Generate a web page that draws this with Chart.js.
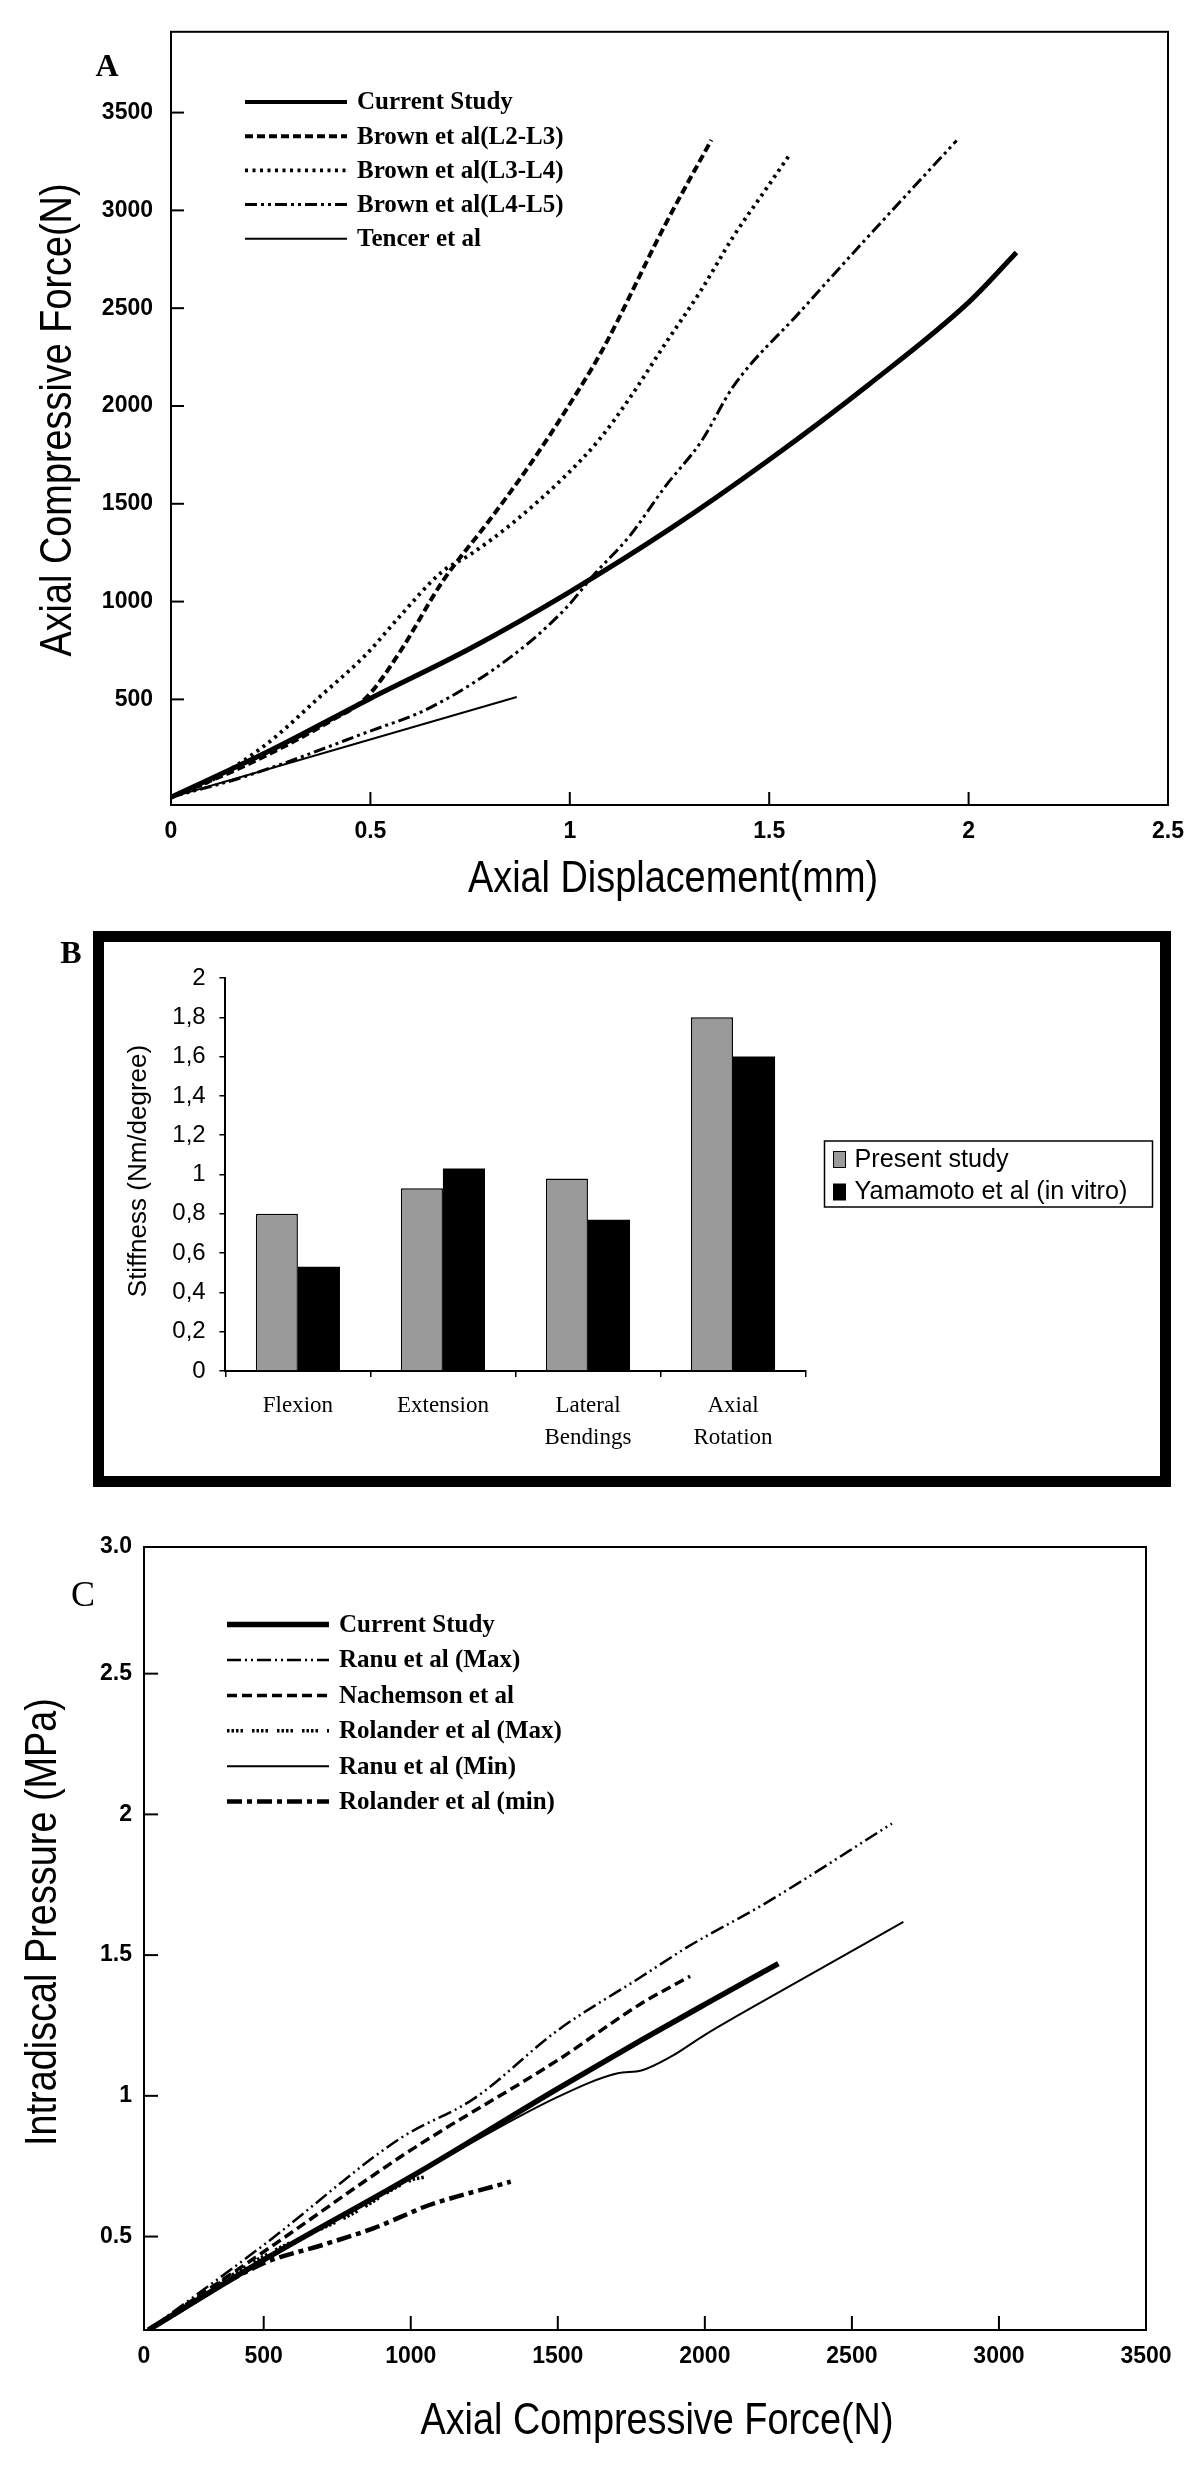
<!DOCTYPE html>
<html>
<head>
<meta charset="utf-8">
<title>Lumbar spine model validation</title>
<script src="https://cdn.jsdelivr.net/npm/chart.js@4.4.1/dist/chart.umd.min.js"></script>
<style>
  body { margin: 0; background: #fff; }
  #page { position: relative; width: 1200px; height: 2477px; background: #fff; }
  canvas { position: absolute; left: 0; }
</style>
</head>
<body>
<div id="page">
  <canvas id="chartA" width="1200" height="910" style="top:0px"></canvas>
  <canvas id="chartB" width="1200" height="600" style="top:910px"></canvas>
  <canvas id="chartC" width="1200" height="967" style="top:1510px"></canvas>
</div>
<script>
// ---------- Panel A: axial displacement (mm) vs axial compressive force (N)
const xTicksA = [0, 0.5, 1, 1.5, 2, 2.5];
const yTicksA = [500, 1000, 1500, 2000, 2500, 3000, 3500];

const currentDispA  = [0, 0.25, 0.5, 0.75, 1.0, 1.25, 1.5, 1.75, 2.0, 2.12];
const currentForceA = [0, 240, 505, 760, 1050, 1370, 1725, 2110, 2530, 2785];

const brownL23DispA  = [0, 0.2, 0.4, 0.49, 0.57, 0.68, 0.8, 0.9, 1.0, 1.08, 1.24, 1.355];
const brownL23ForceA = [0, 175, 390, 510, 730, 1100, 1420, 1700, 2010, 2280, 2930, 3360];

const brownL34DispA  = [0, 0.1, 0.24, 0.38, 0.49, 0.57, 0.68, 0.75, 0.86, 0.99, 1.075, 1.15, 1.24, 1.33, 1.41, 1.49, 1.55];
const brownL34ForceA = [0, 85, 272, 526, 731, 916, 1153, 1240, 1407, 1645, 1831, 2040, 2320, 2594, 2866, 3103, 3281];

const brownL45DispA  = [0, 0.18, 0.49, 0.65, 0.86, 0.99, 1.06, 1.15, 1.24, 1.33, 1.41, 1.575, 1.74, 1.97];
const brownL45ForceA = [0, 102, 331, 458, 729, 966, 1136, 1335, 1590, 1820, 2100, 2476, 2848, 3357];

const tencerDispA  = [0, 0.867];
const tencerForceA = [0, 512];

// ---------- Panel B: stiffness (Nm/degree)
const motionsB = ['Flexion', 'Extension', ['Lateral', 'Bendings'], ['Axial', 'Rotation']];
const presentStudyB = [0.8, 0.93, 0.98, 1.8];
const yamamotoB     = [0.53, 1.03, 0.77, 1.6];

// ---------- Panel C: axial compressive force (N) vs intradiscal pressure (MPa)
const xMinC = 93, xMaxC = 3500;
const yMinC = 0.168, yMaxC = 2.95;
const xTicksC = [xMinC, 500, 1000, 1500, 2000, 2500, 3000, 3500];
const yTicksC = [0.5, 1, 1.5, 2, 2.5, yMaxC];
const yTickLabelsC = ['0.5', '1', '1.5', '2', '2.5', '3.0'];

const currentForceC = [108, 500, 1000, 1500, 1784, 2000, 2250];
const currentPressC = [0.168, 0.417, 0.712, 1.026, 1.198, 1.325, 1.47];

const ranuMaxForceC = [108, 500, 966, 1215, 1500, 1784, 1943, 2204, 2636];
const ranuMaxPressC = [0.168, 0.47, 0.85, 0.99, 1.233, 1.423, 1.53, 1.683, 1.967];

const nachemsonForceC = [108, 500, 1000, 1500, 1784, 1950];
const nachemsonPressC = [0.168, 0.446, 0.807, 1.127, 1.328, 1.425];

const rolanderMaxForceC = [108, 500, 800, 1000, 1050];
const rolanderMaxPressC = [0.168, 0.43, 0.58, 0.70, 0.712];

const ranuMinForceC = [108, 500, 1000, 1500, 1704, 1784, 1886, 1999, 2284, 2675];
const ranuMinPressC = [0.168, 0.417, 0.71, 0.996, 1.08, 1.09, 1.14, 1.216, 1.387, 1.618];

const rolanderMinForceC = [108, 500, 700, 875, 1000, 1045, 1340];
const rolanderMinPressC = [0.168, 0.405, 0.47, 0.53, 0.585, 0.605, 0.695];

// ---------- helpers
Chart.defaults.color = '#000';
Chart.defaults.font.family = '"Liberation Sans", Arial, sans-serif';

function mkLine(label, xs, ys, width, dash, smooth = true) {
  return {
    label,
    data: xs.map((x, i) => ({ x, y: ys[i] })),
    borderColor: '#000',
    borderWidth: width,
    borderDash: dash,
    borderCapStyle: 'butt',
    borderJoinStyle: 'round',
    pointRadius: 0,
    fill: false,
    tension: 0,
    cubicInterpolationMode: smooth ? 'monotone' : 'default'
  };
}

function drawText(ctx, t) {
  ctx.save();
  ctx.translate(t.x, t.y);
  if (t.rotate) ctx.rotate(t.rotate);
  ctx.scale(t.sx || 1, 1);
  ctx.font = t.font;
  ctx.fillStyle = '#000';
  ctx.textAlign = t.align || 'center';
  ctx.textBaseline = 'middle';
  ctx.fillText(t.text, 0, 0);
  ctx.restore();
}

const decorPlugin = {
  id: 'decor',
  afterDraw(chart, args, opts) {
    const ctx = chart.ctx;
    const a = chart.chartArea;
    if (opts.frame) {
      ctx.save();
      ctx.strokeStyle = '#000';
      ctx.lineWidth = opts.frame;
      ctx.strokeRect(a.left, a.top, a.right - a.left, a.bottom - a.top);
      ctx.restore();
    }
    // tick marks pointing into the plot, placed by the scales
    if (opts.inTicks) {
      const xs = chart.scales.x, ys = chart.scales.y;
      ctx.save();
      ctx.strokeStyle = '#000';
      ctx.lineWidth = 2;
      xs.ticks.forEach(t => {
        const px = xs.getPixelForValue(t.value);
        ctx.beginPath(); ctx.moveTo(px, a.bottom); ctx.lineTo(px, a.bottom - opts.inTicks); ctx.stroke();
      });
      ys.ticks.forEach(t => {
        const py = ys.getPixelForValue(t.value);
        ctx.beginPath(); ctx.moveTo(a.left, py); ctx.lineTo(a.left + opts.inTicks, py); ctx.stroke();
      });
      ctx.restore();
    }
    if (opts.box) {
      const b = opts.box;
      ctx.save();
      ctx.strokeStyle = '#000';
      ctx.lineWidth = b.width;
      ctx.strokeRect(b.x + b.width / 2, b.y + b.width / 2, b.w - b.width, b.h - b.width);
      ctx.restore();
    }
    (opts.texts || []).forEach(t => drawText(ctx, t));

    const lg = opts.lineLegend;
    if (lg) {
      chart.data.datasets.forEach((ds, i) => {
        const y = lg.y + i * lg.step;
        ctx.save();
        ctx.strokeStyle = '#000';
        ctx.lineWidth = Math.min(ds.borderWidth, lg.maxWidth || 99);
        ctx.setLineDash(ds.borderDash || []);
        ctx.beginPath();
        ctx.moveTo(lg.x0, y);
        ctx.lineTo(lg.x1, y);
        ctx.stroke();
        ctx.restore();
        drawText(ctx, { text: ds.label, x: lg.tx, y: y + 1, font: lg.font, align: 'left' });
      });
    }

    const bl = opts.boxLegend;
    if (bl) {
      ctx.save();
      ctx.strokeStyle = '#000';
      ctx.lineWidth = 1.5;
      ctx.strokeRect(bl.x, bl.y, bl.w, bl.h);
      chart.data.datasets.forEach((ds, i) => {
        const y = bl.y + bl.first + i * bl.step;
        ctx.fillStyle = ds.backgroundColor;
        ctx.fillRect(bl.x + 9, y - 8, 12, 16);
        ctx.lineWidth = 1;
        ctx.strokeRect(bl.x + 9, y - 8, 12, 16);
        drawText(ctx, { text: ds.label, x: bl.x + 30, y, font: bl.font, align: 'left', sx: 0.97 });
      });
      ctx.restore();
    }
  }
};
Chart.register(decorPlugin);

const axisBorder = { display: true, color: '#000', width: 2 };
const noGrid = { drawOnChartArea: false, drawTicks: false };
const tickFontAC = { family: '"Liberation Sans", Arial, sans-serif', size: 23, weight: 'bold', lineHeight: 1.2 };
const legendFont = 'bold 25px "Liberation Serif", "Times New Roman", serif';
const titleFont = '44px "Liberation Sans", Arial, sans-serif';

// ---------- Chart A
new Chart(document.getElementById('chartA'), {
  type: 'line',
  data: {
    datasets: [
      mkLine('Current Study', currentDispA, currentForceA, 5, []),
      mkLine('Brown et al(L2-L3)', brownL23DispA, brownL23ForceA, 4, [8, 4]),
      mkLine('Brown et al(L3-L4)', brownL34DispA, brownL34ForceA, 3.8, [3, 4.5]),
      mkLine('Brown et al(L4-L5)', brownL45DispA, brownL45ForceA, 3, [12, 4, 3, 4, 3, 4]),
      mkLine('Tencer et al', tencerDispA, tencerForceA, 2, [], false)
    ]
  },
  options: {
    responsive: false,
    animation: false,
    layout: { padding: { top: 27, right: 32, left: 0, bottom: 0 } },
    plugins: {
      legend: { display: false },
      tooltip: { enabled: false },
      decor: {
        frame: 2,
        inTicks: 13,
        texts: [
          { text: 'A', x: 107, y: 68, font: 'bold 32px "Liberation Serif", serif' },
          { text: 'Axial Compressive Force(N)', x: 59, y: 420, rotate: -Math.PI / 2, font: titleFont, sx: 0.86 },
          { text: 'Axial Displacement(mm)', x: 673, y: 880, font: titleFont, sx: 0.86 }
        ],
        lineLegend: { x0: 245, x1: 347, tx: 357, y: 102, step: 34.2, font: legendFont, maxWidth: 4 }
      }
    },
    scales: {
      x: {
        type: 'linear', min: 0, max: 2.5,
        afterBuildTicks: s => { s.ticks = xTicksA.map(v => ({ value: v })); },
        afterFit: s => { s.height = 105; },
        grid: noGrid, border: axisBorder,
        ticks: { font: tickFontAC, padding: 13, maxRotation: 0, autoSkip: false, callback: v => String(v) }
      },
      y: {
        type: 'linear', min: -40, max: 3913,
        afterBuildTicks: s => { s.ticks = yTicksA.map(v => ({ value: v })); },
        afterFit: s => { s.width = 171; },
        grid: noGrid, border: axisBorder,
        ticks: { font: tickFontAC, padding: 18, autoSkip: false, callback: v => String(v) }
      }
    }
  }
});

// ---------- Chart B
new Chart(document.getElementById('chartB'), {
  type: 'bar',
  data: {
    labels: motionsB,
    datasets: [
      { label: 'Present study', data: presentStudyB, backgroundColor: '#9a9a9a', borderColor: '#000', borderWidth: 1.5,
        categoryPercentage: 0.58, barPercentage: 1 },
      { label: 'Yamamoto et al (in vitro)', data: yamamotoB, backgroundColor: '#000', borderColor: '#000', borderWidth: 0,
        categoryPercentage: 0.58, barPercentage: 1 }
    ]
  },
  options: {
    responsive: false,
    animation: false,
    layout: { padding: { top: 68, right: 394.5, left: 0, bottom: 0 } },
    plugins: {
      legend: { display: false },
      tooltip: { enabled: false },
      decor: {
        box: { x: 93, y: 21, w: 1078, h: 556, width: 11 },
        texts: [
          { text: 'B', x: 71, y: 45, font: 'bold 32px "Liberation Serif", serif' },
          { text: 'Stiffness (Nm/degree)', x: 139, y: 261, rotate: -Math.PI / 2, font: '26px "Liberation Sans", Arial, sans-serif' }
        ],
        boxLegend: { x: 824.5, y: 231, w: 328, h: 66, first: 18.5, step: 32.5, font: '26px "Liberation Sans", Arial, sans-serif' }
      }
    },
    scales: {
      x: {
        afterFit: s => { s.height = 139; },
        grid: { offset: true, drawOnChartArea: false, drawTicks: true, tickLength: 6, color: '#000', lineWidth: 1.5 },
        border: axisBorder,
        ticks: { font: { family: '"Liberation Serif", "Times New Roman", serif', size: 23, lineHeight: 1.4 }, padding: 13, maxRotation: 0, autoSkip: false }
      },
      y: {
        min: 0, max: 2,
        afterFit: s => { s.width = 225.4; },
        grid: { drawOnChartArea: false, drawTicks: true, tickLength: 6, color: '#000', lineWidth: 1.5 },
        border: axisBorder,
        ticks: {
          stepSize: 0.2, padding: 13.7,
          font: { family: '"Liberation Sans", Arial, sans-serif', size: 24 },
          callback: v => {
            const r = Math.round(v * 10) / 10;
            return Number.isInteger(r) ? String(r) : r.toFixed(1).replace('.', ',');
          }
        }
      }
    }
  }
});

// ---------- Chart C
new Chart(document.getElementById('chartC'), {
  type: 'line',
  data: {
    datasets: [
      mkLine('Current Study', currentForceC, currentPressC, 5.5, []),
      mkLine('Ranu et al (Max)', ranuMaxForceC, ranuMaxPressC, 2.5, [14, 4, 2, 4, 2, 4]),
      mkLine('Nachemson et al', nachemsonForceC, nachemsonPressC, 3.5, [10, 5]),
      mkLine('Rolander et al (Max)', rolanderMaxForceC, rolanderMaxPressC, 3.5, [2.5, 2, 2.5, 2, 2.5, 2, 2.5, 9]),
      mkLine('Ranu et al (Min)', ranuMinForceC, ranuMinPressC, 2, []),
      mkLine('Rolander et al (min)', rolanderMinForceC, rolanderMinPressC, 4.5, [15, 5, 5, 5])
    ]
  },
  options: {
    responsive: false,
    animation: false,
    layout: { padding: { top: 37, right: 54, left: 0, bottom: 0 } },
    plugins: {
      legend: { display: false },
      tooltip: { enabled: false },
      decor: {
        frame: 2,
        inTicks: 14,
        texts: [
          { text: 'C', x: 83, y: 87, font: '36px "Liberation Serif", serif' },
          { text: 'Intradiscal Pressure (MPa)', x: 44, y: 412, rotate: -Math.PI / 2, font: titleFont, sx: 0.86 },
          { text: 'Axial Compressive Force(N)', x: 657, y: 912, font: titleFont, sx: 0.86 }
        ],
        lineLegend: { x0: 227, x1: 329, tx: 339, y: 114.6, step: 35.4, font: legendFont }
      }
    },
    scales: {
      x: {
        type: 'linear', min: xMinC, max: xMaxC,
        afterBuildTicks: s => { s.ticks = xTicksC.map(v => ({ value: v })); },
        afterFit: s => { s.height = 147; },
        grid: noGrid, border: axisBorder,
        ticks: { font: tickFontAC, padding: 13, maxRotation: 0, autoSkip: false, callback: v => (v === xMinC ? '0' : String(v)) }
      },
      y: {
        type: 'linear', min: yMinC, max: yMaxC,
        afterBuildTicks: s => { s.ticks = yTicksC.map(v => ({ value: v })); },
        afterFit: s => { s.width = 144; },
        grid: noGrid, border: axisBorder,
        ticks: { font: tickFontAC, padding: 12, autoSkip: false, callback: (v, i) => yTickLabelsC[i] }
      }
    }
  }
});
</script>
</body>
</html>
